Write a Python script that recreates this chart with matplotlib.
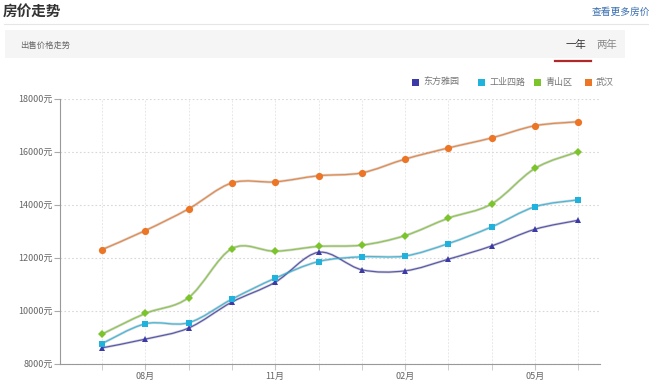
import numpy as np
import matplotlib
matplotlib.use("Agg")
import matplotlib.pyplot as plt
from matplotlib.path import Path
from matplotlib.patches import PathPatch, Rectangle
from matplotlib.lines import Line2D

plt.rcParams['font.family'] = ['Noto Sans CJK SC', 'DejaVu Sans']

months = ["07月", "08月", "09月", "10月", "11月", "12月", "01月", "02月", "03月", "04月", "05月", "06月"]
shown_months = ["08月", "11月", "02月", "05月"]

series_names = ["东方雅园", "工业四路", "青山区", "武汉"]
dongfang = [8590, 8920, 9340, 10320, 11070, 12200, 11540, 11500, 11940, 12440, 13070, 13410]
gongye = [8750, 9500, 9540, 10430, 11220, 11850, 12030, 12060, 12530, 13160, 13920, 14180]
qingshan = [9110, 9890, 10490, 12340, 12240, 12420, 12470, 12830, 13490, 14030, 15370, 16000]
wuhan = [12300, 13020, 13840, 14820, 14860, 15090, 15200, 15720, 16140, 16520, 16980, 17130]

y_ticks = [8000, 10000, 12000, 14000, 16000, 18000]

colors = ["#3b3aa6", "#1fb2dd", "#7cc42c", "#ec7625"]
markers = ["^", "s", "D", "o"]
msizes = [4.5, 4.8, 3.6, 5.2]
data = [dongfang, gongye, qingshan, wuhan]

W, H = 649, 386
fig = plt.figure(figsize=(W / 100, H / 100), dpi=100)


def fx(px):
    return px / W


def fy(py):
    return 1 - py / H


fig.text(fx(3), fy(11), "房价走势", fontsize=10.5, fontweight="bold", color="#333333", va="center", ha="left")
fig.text(fx(592), fy(12), "查看更多房价", fontsize=7, color="#3a6fb0", va="center", ha="left")
fig.add_artist(Line2D([fx(4), fx(649)], [fy(24), fy(24)], color="#e6e6e6", lw=0.8))
fig.add_artist(Rectangle((fx(5), fy(58)), fx(625) - fx(5), fy(30) - fy(58), facecolor="#f5f5f5",
                         edgecolor="none", transform=fig.transFigure))
fig.text(fx(20), fy(45), "出售价格走势", fontsize=6, color="#666666", va="center", ha="left")
fig.text(fx(566), fy(45), "一年", fontsize=7.5, color="#333333", va="center", ha="left")
fig.text(fx(596), fy(45), "两年", fontsize=7.5, color="#888888", va="center", ha="left")
fig.add_artist(Line2D([fx(555), fx(591)], [fy(61), fy(61)], color="#b0282a", lw=1.6))

# legend
leg_x = [412, 478, 534, 585]
for i, name in enumerate(series_names):
    fig.add_artist(Rectangle((fx(leg_x[i]), fy(86)), fx(7), fy(79) - fy(86), facecolor=colors[i],
                             edgecolor="none", transform=fig.transFigure))
    fig.text(fx(leg_x[i] + 11), fy(82.5), name, fontsize=6.5, color="#777777", va="center", ha="left")

# plot axes
left, right = 60, 600
top, bottom = 98.7, 363.5
ax = fig.add_axes([fx(left), fy(bottom), fx(right) - fx(left), (bottom - top) / H])
ax.set_xlim(-0.97, 11.5)
ax.set_ylim(8000, 18000)

x = np.arange(len(months))


def spline_path(xs, ys, k=6.0):
    xs = np.asarray(xs, float)
    ys = np.asarray(ys, float)
    n = len(xs)
    verts = [(xs[0], ys[0])]
    codes = [Path.MOVETO]
    for i in range(n - 1):
        p0 = i - 1 if i > 0 else i
        p3 = i + 2 if i + 2 < n else i + 1
        c1 = (xs[i] + (xs[i + 1] - xs[p0]) / k, ys[i] + (ys[i + 1] - ys[p0]) / k)
        c2 = (xs[i + 1] - (xs[p3] - xs[i]) / k, ys[i + 1] - (ys[p3] - ys[i]) / k)
        verts += [c1, c2, (xs[i + 1], ys[i + 1])]
        codes += [Path.CURVE4] * 3
    return Path(verts, codes)


for i, ys in enumerate(data):
    p = spline_path(x, ys)
    ax.add_patch(PathPatch(p, facecolor="none", edgecolor="#8a8a8a", lw=1.9, alpha=0.35, zorder=2))
    ax.add_patch(PathPatch(p, facecolor="none", edgecolor=colors[i], lw=0.9, alpha=0.8, zorder=3))
    ax.plot(x, ys, linestyle="none", marker=markers[i], color=colors[i], markersize=msizes[i],
            markeredgewidth=0, zorder=4)

ax.set_yticks(y_ticks)
ax.set_yticklabels([f"{v}元" for v in y_ticks], fontsize=6.5, color="#666666")
ax.yaxis.grid(True, linestyle=(0, (1.5, 2)), color="#d8d8d8", lw=0.8)
ax.set_xticks(x, minor=True)
major_idx = [months.index(m) for m in shown_months]
ax.set_xticks(major_idx)
ax.set_xticklabels(shown_months, fontsize=6.5, color="#666666")
for xi in x:
    ax.axvline(xi, color="#e8e8e8", lw=0.7, linestyle=(0, (2, 1.5)), zorder=0)
ax.tick_params(axis="y", length=4, color="#aaaaaa", pad=1)
ax.tick_params(axis="x", which="both", length=4, color="#c5c5c5", pad=2, direction="out")
ax.tick_params(axis="x", which="minor", labelbottom=False)
for s in ["top", "right"]:
    ax.spines[s].set_visible(False)
ax.spines["left"].set_color("#999999")
ax.spines["bottom"].set_color("#999999")
ax.spines["left"].set_linewidth(0.8)
ax.spines["bottom"].set_linewidth(0.8)

fig.savefig("out.png", dpi=100)
